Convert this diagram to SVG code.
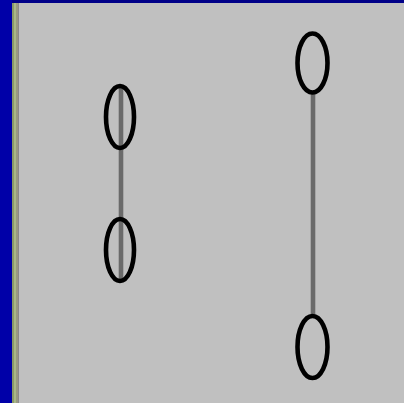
<svg xmlns="http://www.w3.org/2000/svg" width="404" height="403" viewBox="0 0 404 403">
<style>
.node{fill:none;stroke:#000;stroke-width:4.6}
.edge{stroke:#6a6a6a;stroke-width:4.6;fill:none}
</style>
<rect x="0" y="0" width="404" height="403" fill="#c0c0c0"/>
<rect x="0" y="0" width="404" height="3" fill="#000088"/>
<rect x="0" y="0" width="12" height="403" fill="#0000a8"/>
<rect x="12" y="3" width="2" height="400" fill="#8a9a68"/>
<rect x="14" y="3" width="2" height="400" fill="#a8b888"/>
<rect x="16" y="3" width="2" height="400" fill="#9a9a80"/>
<rect x="18" y="3" width="1" height="400" fill="#8a8a8a"/>
<g id="connectors">
<line class="edge" x1="121" y1="85" x2="121" y2="282"/>
<line class="edge" x1="313" y1="92" x2="313" y2="316"/>
</g>
<g id="n1"><ellipse class="node" cx="120" cy="117" rx="14" ry="31"/></g>
<g id="n2"><ellipse class="node" cx="120" cy="250" rx="14" ry="31"/></g>
<g id="n3"><ellipse class="node" cx="312.5" cy="63" rx="15" ry="29.5"/></g>
<g id="n4"><ellipse class="node" cx="312.5" cy="347" rx="15" ry="31"/></g>
</svg>
